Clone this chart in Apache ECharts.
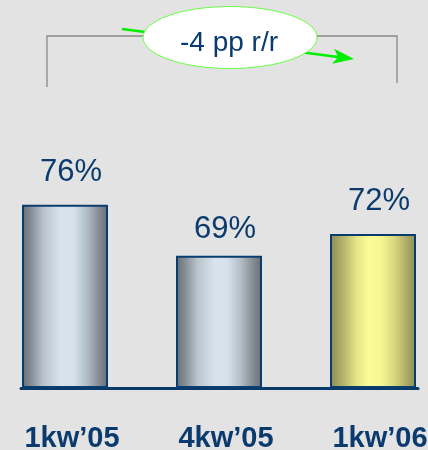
<!DOCTYPE html>
<html>
<head>
<meta charset="utf-8">
<script src="https://cdn.jsdelivr.net/npm/echarts@6/dist/echarts.min.js"></script>
<style>
html,body{margin:0;padding:0;background:#e3e3e3;}
#chart{width:428px;height:450px;}
</style>
</head>
<body>
<div id="chart"></div>
<script>
var categories = ['1kw\u201905', '4kw\u201905', '1kw\u201906'];
var values = [76, 69, 72];
var valueLabels = ['76%', '69%', '72%'];
var changeLabel = '-4 pp r/r';

var navy = '#0b3b6e';
var silver = {
  type: 'linear', x: 0, y: 0, x2: 1, y2: 0,
  colorStops: [
    {offset: 0, color: '#676c74'},
    {offset: 0.12, color: '#8b929a'},
    {offset: 0.25, color: '#b9c4cc'},
    {offset: 0.45, color: '#d8e4ed'},
    {offset: 0.6, color: '#d5e2eb'},
    {offset: 0.75, color: '#b3bec6'},
    {offset: 0.88, color: '#8b9199'},
    {offset: 1, color: '#686c74'}
  ]
};
var gold = {
  type: 'linear', x: 0, y: 0, x2: 1, y2: 0,
  colorStops: [
    {offset: 0, color: '#8d8c55'},
    {offset: 0.15, color: '#b3b26a'},
    {offset: 0.3, color: '#e2e287'},
    {offset: 0.45, color: '#fdfd98'},
    {offset: 0.6, color: '#f6f694'},
    {offset: 0.75, color: '#d8d77f'},
    {offset: 0.9, color: '#a9a865'},
    {offset: 1, color: '#8f8e57'}
  ]
};

var barData = values.map(function (v, i) {
  return {
    value: v,
    itemStyle: {color: i === 2 ? gold : silver},
    label: {
      formatter: valueLabels[i],
      offset: i === 1 ? [6, 6] : [6, 0]
    }
  };
});

// arrow geometry
var ax0 = 122, ay0 = 29, ax1 = 354, ay1 = 59;
var ang = Math.atan2(ay1 - ay0, ax1 - ax0);
function rot(dx, dy) {
  return [ax1 + dx * Math.cos(ang) - dy * Math.sin(ang), ay1 + dx * Math.sin(ang) + dy * Math.cos(ang)];
}

var chart = echarts.init(document.getElementById('chart'));
chart.setOption({
  backgroundColor: '#e3e3e3',
  animation: false,
  grid: [
    {left: -12, right: -22, top: 30, bottom: 63, containLabel: false, outerBoundsMode: 'none'},
    {left: 21, right: 10, top: 30, bottom: 61.5, containLabel: false, outerBoundsMode: 'none'}
  ],
  xAxis: [
    {
      type: 'category', gridIndex: 0, data: categories,
      axisLine: {show: false}, axisTick: {show: false},
      axisLabel: {
        color: navy, fontSize: 29, fontWeight: 'bold',
        fontFamily: 'Liberation Sans, Arial, sans-serif',
        margin: 37, padding: [0, 0, 0, 14]
      }
    },
    {
      type: 'category', gridIndex: 1, data: categories,
      axisLine: {show: true, lineStyle: {color: '#0a3a6a', width: 3}},
      axisTick: {show: false}, axisLabel: {show: false}
    }
  ],
  yAxis: [
    {type: 'value', gridIndex: 0, min: 51, max: 100, show: false},
    {type: 'value', gridIndex: 1, min: 0, max: 1, show: false}
  ],
  series: [{
    type: 'bar',
    xAxisIndex: 0, yAxisIndex: 0,
    data: barData,
    barWidth: 86,
    itemStyle: {borderColor: '#0a3d6f', borderWidth: 2},
    label: {
      show: true, position: 'top', distance: 17,
      color: navy, fontSize: 31,
      fontFamily: 'Liberation Sans, Arial, sans-serif'
    }
  }],
  graphic: [
    {
      type: 'polyline', z: 10,
      shape: {points: [[47, 87], [47, 36], [397, 36], [397, 83]]},
      style: {stroke: '#8a8a8a', lineWidth: 1.3, fill: null}
    },
    {
      type: 'line', z: 11,
      shape: {x1: ax0, y1: ay0, x2: rot(-14, 0)[0], y2: rot(-14, 0)[1]},
      style: {stroke: '#00ee00', lineWidth: 2.5}
    },
    {
      type: 'polygon', z: 11,
      shape: {points: [rot(0, 0), rot(-21, -7.5), rot(-16, 0), rot(-21, 7.5)]},
      style: {fill: '#00ee00'}
    },
    {
      type: 'ellipse', z: 12,
      shape: {cx: 230, cy: 37.5, rx: 87, ry: 31},
      style: {fill: '#ffffff', stroke: '#66ff44', lineWidth: 1}
    },
    {
      type: 'text', z: 13,
      x: 229, y: 43,
      style: {
        text: changeLabel, fill: navy, fontSize: 28,
        fontFamily: 'Liberation Sans, Arial, sans-serif',
        align: 'center', verticalAlign: 'middle'
      }
    }
  ]
});
</script>
</body>
</html>
